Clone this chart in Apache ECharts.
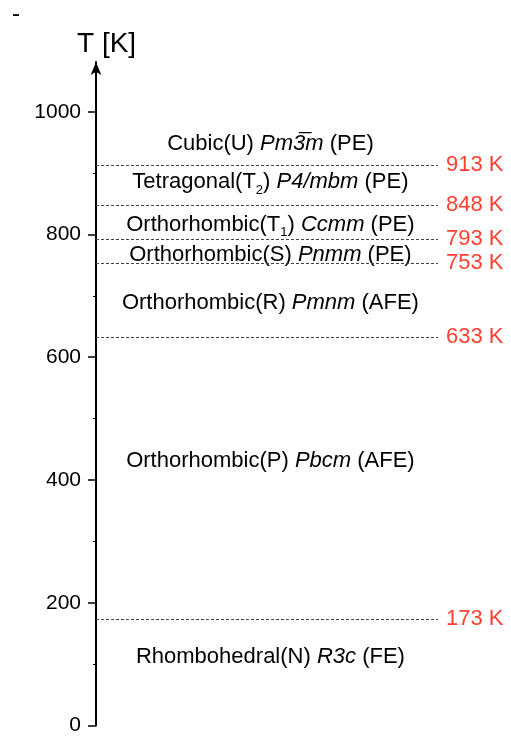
<!DOCTYPE html>
<html lang="en">
<head>
<meta charset="UTF-8" />
<script src="https://cdn.jsdelivr.net/npm/echarts@6/dist/echarts.min.js"></script>
<style>
html,body{margin:0;padding:0;background:#fff}
#main{width:511px;height:736px}
</style>
</head>
<body>
<div id="main"></div>
<script type="text/javascript">
// axis ticks
var tickValues = [0, 200, 400, 600, 800, 1000];
var minorTickValues = [100, 300, 500, 700, 900];
// transition temperatures (K)
var transitionT = [913, 848, 793, 753, 633, 173];
// phases, top to bottom
var phaseSystem = ['Cubic', 'Tetragonal', 'Orthorhombic', 'Orthorhombic', 'Orthorhombic', 'Orthorhombic', 'Rhombohedral'];
var phaseLetter = ['U', 'T', 'T', 'S', 'R', 'P', 'N'];
var phaseSub = ['', '2', '1', '', '', '', ''];
var phaseGroup = ['Pm3\u0305m', 'P4/mbm', 'Ccmm', 'Pnmm', 'Pmnm', 'Pbcm', 'R3c'];
var phaseType = ['PE', 'PE', 'PE', 'PE', 'AFE', 'AFE', 'FE'];
var phaseLabelT = [948, 885, 816, 766, 688, 431, 111];

var font = '"Liberation Sans", Arial, sans-serif';
var red = '#ff3f30';

var myChart = echarts.init(document.getElementById('main'));

var phaseData = phaseLabelT.map(function (t) { return [0.51, t]; });

var option = {
	backgroundColor: '#fff',
	animation: false,
	graphic: [
		{type: 'text', left: 12, top: 2, style: {text: '-', font: '24px ' + font, fill: '#000'}},
		{type: 'text', left: 77, top: 30, style: {text: 'T [K]', font: '28px ' + font, fill: '#000'}}
	],
	grid: {left: 96, right: 73, top: 62, bottom: 10, containLabel: false},
	xAxis: {type: 'value', min: 0, max: 1, show: false},
	yAxis: [
		{
			type: 'value', min: 0, max: 1081, position: 'left',
			axisLine: {show: true, symbol: ['none', 'arrow'], symbolSize: [8, 13], lineStyle: {color: '#000', width: 2}},
			axisTick: {show: true, length: 8, customValues: tickValues, lineStyle: {color: '#000', width: 1.5}},
			axisLabel: {show: true, margin: 15, customValues: tickValues, color: '#000', fontSize: 21, fontFamily: font,
				formatter: function (v) { return String(v); }},
			splitLine: {show: false}
		},
		{
			type: 'value', min: 0, max: 1081, position: 'left',
			axisLine: {show: false},
			axisTick: {show: true, length: 3, customValues: minorTickValues, lineStyle: {color: '#000', width: 1}},
			axisLabel: {show: false},
			splitLine: {show: false}
		}
	],
	series: [
		{
			type: 'scatter',
			data: phaseData,
			symbolSize: 0,
			silent: true,
			itemStyle: {opacity: 1},
			label: {
				show: true,
				position: 'inside',
				color: '#000',
				opacity: 1,
				fontSize: 22,
				fontFamily: font,
				formatter: function (p) {
					var i = p.dataIndex;
					var s = phaseSystem[i] + '(' + phaseLetter[i];
					if (phaseSub[i]) s += '{sub|' + phaseSub[i] + '}';
					s += ') {it|' + phaseGroup[i] + '} (' + phaseType[i] + ')';
					return s;
				},
				rich: {
					it: {fontStyle: 'italic', fontSize: 22, fontFamily: font, color: '#000'},
					sub: {fontSize: 13, fontFamily: font, color: '#000', padding: [16, 0, 0, 0], verticalAlign: 'bottom'}
				}
			},
			markLine: {
				silent: true,
				symbol: ['none', 'none'],
				lineStyle: {color: '#444', width: 1, type: [3, 2]},
				label: {show: true, position: 'end', distance: 8, color: red, fontSize: 22, fontFamily: font,
					formatter: function (p) { return p.value + ' K'; }},
				data: transitionT.map(function (t) { return {yAxis: t}; })
			}
		}
	]
};
myChart.setOption(option);
</script>
</body>
</html>
